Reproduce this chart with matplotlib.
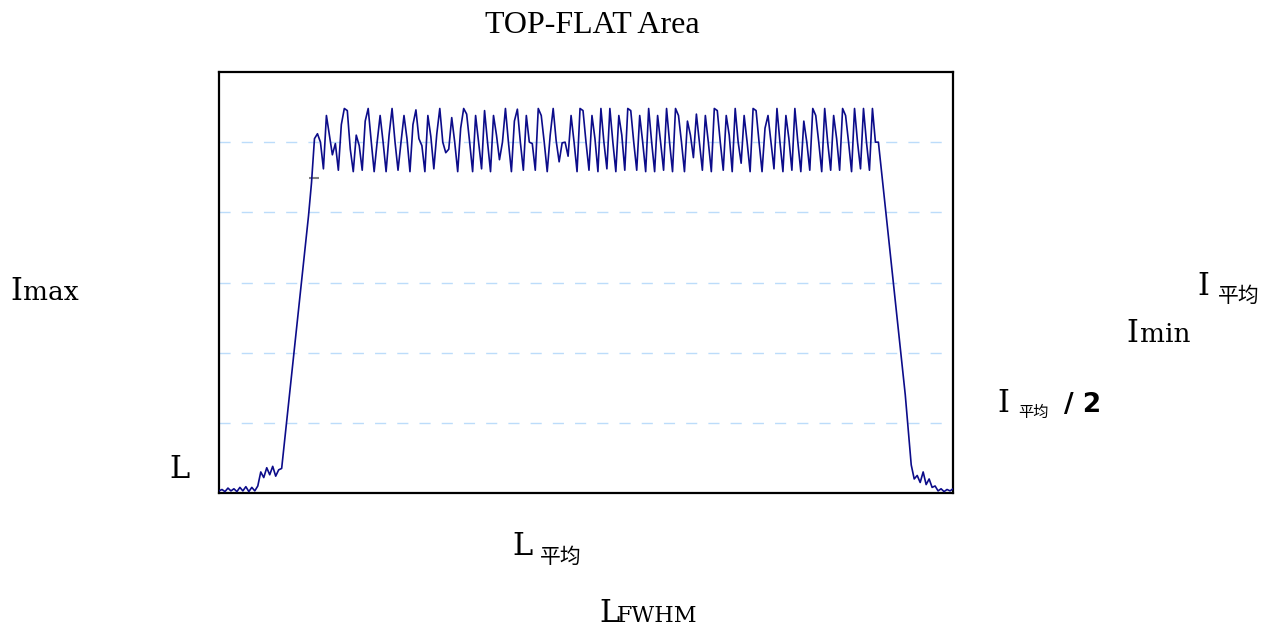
import numpy as np
import matplotlib
matplotlib.use("Agg")
import matplotlib.pyplot as plt

# ---------------------------------------------------------------------------
# DATA (beam intensity profile, one sample every ~3 px)
# ---------------------------------------------------------------------------
baseline_left = [0.03, 0.05, 0.02, 0.07, 0.03, 0.06, 0.02, 0.08, 0.03, 0.09, 0.02, 0.08, 0.03]
shoulder_left = [0.10, 0.30, 0.22, 0.36, 0.26, 0.38, 0.24, 0.33]
rise = [0.35, 0.75, 1.15, 1.55, 1.95, 2.35, 2.75, 3.15, 3.55, 3.95, 4.42]
plateau = [
    5.05, 5.12, 5.00, 4.62, 5.38, 5.10, 4.82, 4.98, 4.60, 5.25, 5.48, 5.45,
    4.90, 4.58, 5.10, 4.95, 4.60, 5.30, 5.48, 5.02, 4.58, 5.00, 5.38, 5.00,
    4.58, 5.10, 5.48, 5.00, 4.60, 5.00, 5.38, 5.05, 4.58, 5.25, 5.46, 5.05,
    4.95, 4.58, 5.38, 5.08, 4.62, 5.12, 5.48, 5.00, 4.85, 4.90, 5.35, 5.00,
    4.58, 5.20, 5.48, 5.40, 5.00, 4.58, 5.38, 5.00, 4.62, 5.45, 5.00, 4.58,
    5.38, 5.10, 4.75, 5.00, 5.48, 5.00, 4.58, 5.30, 5.47, 5.00, 4.60, 5.38,
    5.00, 4.98, 4.60, 5.48, 5.38, 5.00, 4.58, 5.10, 5.48, 5.02, 4.72, 4.99,
    5.00, 4.80, 5.38, 5.00, 4.58, 5.48, 5.45, 5.00, 4.60, 5.38, 5.05, 4.58,
    5.48, 5.00, 4.62, 5.48, 5.00, 4.58, 5.38, 5.10, 4.60, 5.48, 5.45, 5.00,
    4.60, 5.38, 5.00, 4.58, 5.48, 5.00, 4.58, 5.38, 5.00, 4.60, 5.48, 5.00,
    4.58, 5.48, 5.38, 5.00, 4.58, 5.30, 5.10, 4.78, 5.40, 5.00, 4.60, 5.38,
    5.00, 4.58, 5.48, 5.45, 5.00, 4.60, 5.38, 5.10, 4.58, 5.48, 5.00, 4.70,
    5.38, 5.00, 4.58, 5.48, 5.45, 5.00, 4.58, 5.20, 5.38, 5.00, 4.62, 5.48,
    5.00, 4.58, 5.38, 5.05, 4.60, 5.48, 5.00, 4.58, 5.30, 5.00, 4.60, 5.48,
    5.38, 5.00, 4.58, 5.48, 5.00, 4.60, 5.38, 5.05, 4.60, 5.48, 5.38, 5.00,
    4.58, 5.48, 5.00, 4.62, 5.48, 5.00, 4.60, 5.48, 5.00,
]
fall = [5.00, 4.60, 4.20, 3.80, 3.40, 3.00, 2.60, 2.20, 1.80, 1.40, 0.90, 0.40, 0.20]
baseline_right = [0.25, 0.15, 0.30, 0.12, 0.20, 0.08, 0.10, 0.03, 0.06, 0.02, 0.05, 0.03, 0.06]

# stray grey tick near the top of the left edge
tick_index = [32]
tick_value = [4.49]

grid_levels = [1, 2, 3, 4, 5]

profile = np.array(baseline_left + shoulder_left + rise + plateau + fall + baseline_right)
position = np.arange(len(profile))

# ---------------------------------------------------------------------------
# PLOT
# ---------------------------------------------------------------------------
W, H = 1277, 629
fig = plt.figure(figsize=(W / 100, H / 100), dpi=100)
ax = fig.add_axes([219 / W, 1 - 493 / H, 734 / W, 421 / H])

for lvl in grid_levels:
    ax.axhline(lvl, color="#bcdcfa", lw=1.0, dashes=(8, 8), zorder=1)

ax.plot(position, profile, color="#0c0c8a", lw=1.2, zorder=3)
ax.plot(tick_index, tick_value, marker="_", color="#808080", markersize=7, mew=1.5, ls="none", zorder=2)

ax.set_xlim(0, len(profile) - 1)
ax.set_ylim(0, 6)
ax.set_xticks([])
ax.set_yticks([])
for sp in ax.spines.values():
    sp.set_linewidth(1.6)
    sp.set_color("black")

SERIF = "DejaVu Serif"
CJK = "Noto Sans CJK SC"


def put(x, y, s, **kw):
    # place text with pixel coordinates measured from the top-left corner
    fig.text(x / W, 1 - y / H, s, va="baseline", ha="left", **kw)


# title
fig.text(592 / W, 1 - 33 / H, "TOP-FLAT Area", ha="center", va="baseline",
         family="Liberation Serif", fontsize=23)

# Imax
put(10, 300, "I", family=SERIF, fontsize=22)
put(23, 300, "max", family=SERIF, fontsize=19)
# L
put(169, 478, "L", family=SERIF, fontsize=22)
# I 平均
put(1197, 295, "I", family=SERIF, fontsize=22)
put(1218, 302, "平均", family=CJK, fontsize=15)
# Imin
put(1126, 342, "I", family=SERIF, fontsize=22)
put(1140, 342, "min", family=SERIF, fontsize=19)
# I 平均 / 2
put(997, 412, "I", family=SERIF, fontsize=22)
put(1018, 417, "平均", family=CJK, fontsize=11)
put(1064, 412, "/ 2", family="DejaVu Sans", fontweight="bold", fontsize=19)
# L 平均
put(512, 555, "L", family=SERIF, fontsize=22)
put(540, 563, "平均", family=CJK, fontsize=15)
# LFWHM
put(599, 622, "L", family=SERIF, fontsize=22)
put(617, 622, "FWHM", family=SERIF, fontsize=16)

fig.savefig("out.png", dpi=100)
